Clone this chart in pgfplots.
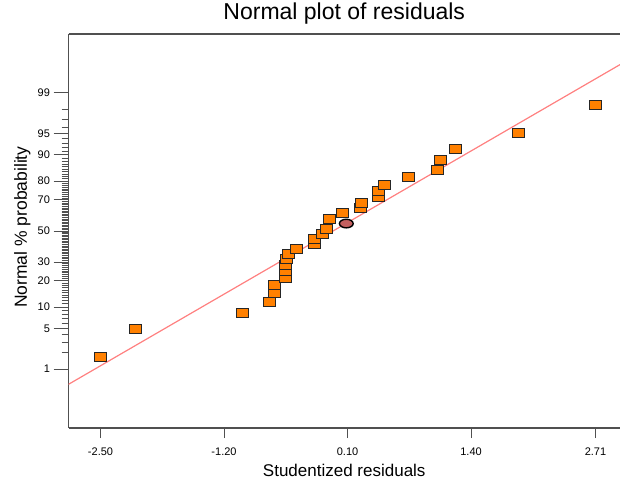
\documentclass[border=0pt]{standalone}
\usepackage{pgfplots}
\pgfplotsset{compat=1.18}
\usepackage{fontspec}
\setmainfont{Liberation Sans}
\definecolor{axgray}{RGB}{80,80,80}
\definecolor{fitred}{RGB}{255,128,128}
\definecolor{ptorange}{RGB}{255,128,0}
\definecolor{ellfill}{RGB}{196,96,96}
\begin{document}
\begin{tikzpicture}
\path[use as bounding box] (0,0) rectangle (620pt,482pt);
\begin{axis}[
  at={(68.5pt,54pt)}, anchor=south west,
  scale only axis, width=551.5pt, height=394pt,
  xmin=-2.837, xmax=2.968, ymin=-3.32, ymax=3.32,
  axis x line*=box, axis y line*=left,
  x axis line style={-}, y axis line style={-},
  axis line style={axgray, line width=1.2pt},
  tick align=outside,
  major tick length=15pt, minor tick length=7pt,
  tick style={axgray, line width=1pt},
  xtick=\empty,
  extra x ticks={-2.5,-1.2,0.1,1.4,2.71},
  extra x tick labels={-2.50,-1.20,0.10,1.40,2.71},
  extra x tick style={major tick length=10pt, xtick pos=bottom, tick style={axgray, line width=1pt}, xticklabel style={yshift=-6pt}},
  ytick pos=left,
  ytick={-2.3263,-1.6449,-1.2816,-0.8416,-0.5244,0,0.5244,0.8416,1.2816,1.6449,2.3263},
  yticklabels={1,5,10,20,30,50,70,80,90,95,99},
  minor ytick={-2.0537,-1.8808,-1.7507,-1.5548,-1.4758,-1.4051,-1.3408,-1.2265,-1.1750,-1.1264,-1.0803,-1.0364,-0.9945,-0.9542,-0.9154,-0.8779,-0.8064,-0.7722,-0.7388,-0.7063,-0.6745,-0.6433,-0.6128,-0.5828,-0.5534,-0.4959,-0.4677,-0.4399,-0.4125,-0.3853,-0.3585,-0.3319,-0.3055,-0.2793,-0.2533,-0.2275,-0.2019,-0.1764,-0.1510,-0.1257,-0.1004,-0.0753,-0.0502,-0.0251,
  0.0251,0.0502,0.0753,0.1004,0.1257,0.1510,0.1764,0.2019,0.2275,0.2533,0.2793,0.3055,0.3319,0.3585,0.3853,0.4125,0.4399,0.4677,0.4959,0.5534,0.5828,0.6128,0.6433,0.6745,0.7063,0.7388,0.7722,0.8064,0.8779,0.9154,0.9542,0.9945,1.0364,1.0803,1.1264,1.1750,1.2265,1.3408,1.4051,1.4758,1.5548,1.7507,1.8808,2.0537},
  ticklabel style={font=\fontsize{11pt}{13pt}\selectfont, text=black},
  title={Normal plot of residuals},
  title style={at={(axis description cs:0.5,1.0228)}, anchor=base, font=\fontsize{23pt}{27pt}\selectfont},
  xlabel={Studentized residuals},
  xlabel style={at={(axis description cs:0.5,-0.1236)}, anchor=base, font=\fontsize{17pt}{20pt}\selectfont},
  ylabel={Normal \% probability},
  ylabel style={at={(axis description cs:-0.0753,0.51)}, anchor=base, rotate=0, font=\fontsize{17.5pt}{20pt}\selectfont},
  clip=true,
]
\addplot[fitred, line width=1.2pt] coordinates {(-2.837,-2.584) (2.968,2.804)};
\addplot[only marks, mark=square*, mark size=4.5pt,
  mark options={xscale=1.333, fill=ptorange, draw=black!85, line width=0.9pt}]
  coordinates {
  (-2.50,-2.1280) (-2.134,-1.6449) (-1.007,-1.3830) (-0.723,-1.1918)
  (-0.666,-1.0364) (-0.666,-0.9027) (-0.555,-0.7835) (-0.555,-0.6745)
  (-0.555,-0.5729) (-0.540,-0.4766) (-0.526,-0.3853) (-0.442,-0.2967)
  (-0.245,-0.2104) (-0.253,-0.1257) (-0.161,-0.0418) (-0.119,0.0418)
  (-0.092,0.2104) (0.042,0.2967) (0.232,0.3853) (0.242,0.4766)
  (0.424,0.5729) (0.424,0.6745) (0.492,0.7835) (0.744,0.9027)
  (1.045,1.0364) (1.081,1.1918) (1.232,1.3830) (1.898,1.6449)
  (2.71,2.1280)};
\addplot[only marks, mark=*, mark size=4.3pt,
  mark options={xscale=1.6, fill=ellfill, draw=black, line width=1.4pt}]
  coordinates {(0.087,0.1257)};
\end{axis}
\end{tikzpicture}
\end{document}
